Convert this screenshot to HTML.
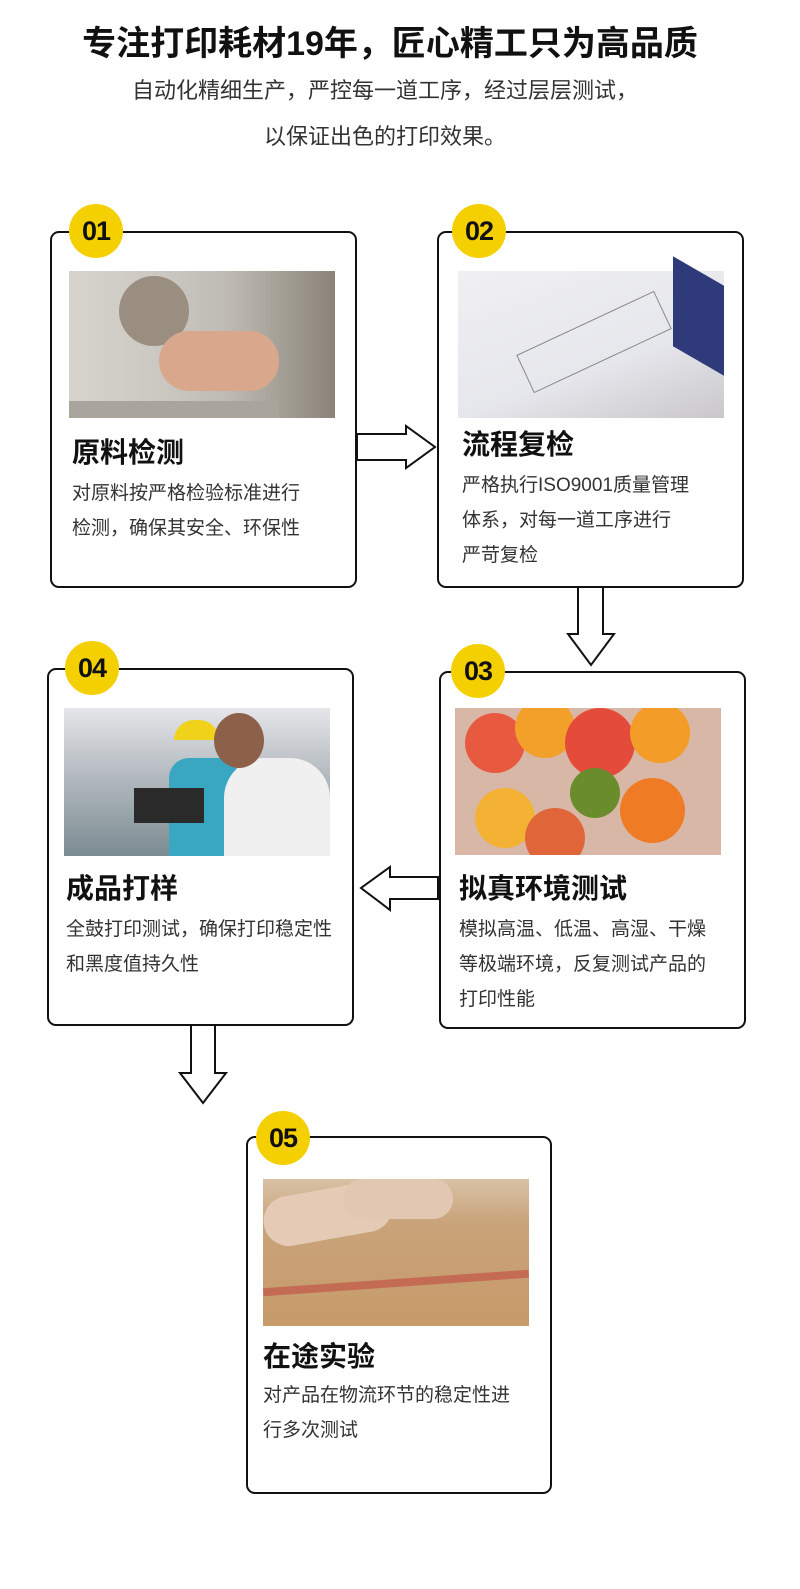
<!DOCTYPE html>
<html><head><meta charset="utf-8"><style>
body{margin:0;width:800px;height:1589px;background:#fff;position:relative;font-family:"Liberation Sans","Noto Sans CJK SC",sans-serif;color:#222;overflow:hidden}
.abs{position:absolute}
.box{position:absolute;border:2px solid #111;border-radius:9px;background:#fff;box-sizing:border-box}
.badge{position:absolute;width:54px;height:54px;border-radius:50%;background:#f5d000;font:bold 27px "Liberation Sans",sans-serif;color:#111;text-align:center;line-height:54px;letter-spacing:-1px}
.img{position:absolute}
.t{position:absolute;font-size:28px;line-height:32px;font-weight:bold;color:#111;white-space:nowrap}
.d{position:absolute;font-size:19px;line-height:35px;color:#333;white-space:nowrap}
</style></head><body>
<div class="abs" style="left:0;width:780px;top:16px;text-align:center;font-size:34px;font-weight:bold;color:#111">专注打印耗材19年，匠心精工只为高品质</div>
<div class="abs" style="left:0;width:770px;top:73px;text-align:center;font-size:22px;color:#333">自动化精细生产，严控每一道工序，经过层层测试，</div>
<div class="abs" style="left:0;width:770px;top:119px;text-align:center;font-size:22px;color:#333">以保证出色的打印效果。</div>

<div class="box" style="left:50px;top:231px;width:307px;height:357px"></div>
<div class="badge" style="left:69px;top:204px">01</div>
<div class="img" style="left:69px;top:271px;width:266px;height:147px;background:linear-gradient(90deg,#d6d4cc 0%,#c8c6bf 40%,#bdbab2 60%,#8a8478 100%)"><div class="abs" style="left:50px;top:5px;width:70px;height:70px;border-radius:50%;background:#9a8e80"></div><div class="abs" style="left:90px;top:60px;width:120px;height:60px;border-radius:30px;background:#d9a88c"></div><div class="abs" style="left:0;top:130px;width:210px;height:17px;background:#a9a59c"></div></div>
<div class="t" style="left:72px;top:437px">原料检测</div>
<div class="d" style="left:72px;top:476px">对原料按严格检验标准进行<br>检测，确保其安全、环保性</div>

<div class="box" style="left:437px;top:231px;width:307px;height:357px"></div>
<div class="badge" style="left:452px;top:204px">02</div>
<div class="img" style="left:458px;top:271px;width:266px;height:147px;background:linear-gradient(160deg,#f0f0f2 0%,#e6e7ec 60%,#c9c7cb 100%)"><div class="abs" style="left:215px;top:0;width:51px;height:90px;background:#2f3a7a;transform:skewY(30deg)"></div><div class="abs" style="left:60px;top:50px;width:150px;height:40px;border:1px solid #888;transform:rotate(-25deg)"></div></div>
<div class="t" style="left:462px;top:429px">流程复检</div>
<div class="d" style="left:462px;top:468px">严格执行ISO9001质量管理<br>体系，对每一道工序进行<br>严苛复检</div>

<svg class="abs" style="left:0;top:0" width="800" height="1589">
<g fill="#fff" stroke="#111" stroke-width="2">
<polygon points="357,434 406,434 406,426 435,447 406,468 406,460 357,460"/>
<polygon points="578,587 603,587 603,634 614,634 591,665 568,634 578,634"/>
<polygon points="438,877 390,877 390,867 361,888 390,910 390,899 438,899"/>
<polygon points="191,1025 215,1025 215,1073 226,1073 203,1103 180,1073 191,1073"/>
</g></svg>

<div class="box" style="left:439px;top:671px;width:307px;height:358px"></div>
<div class="badge" style="left:451px;top:644px">03</div>
<div class="img" style="left:455px;top:708px;width:266px;height:147px;background:#d8b7a6;overflow:hidden">
<div class="abs" style="left:10px;top:5px;width:60px;height:60px;border-radius:50%;background:#e85a40"></div>
<div class="abs" style="left:60px;top:-10px;width:60px;height:60px;border-radius:50%;background:#f2a02a"></div>
<div class="abs" style="left:110px;top:0;width:70px;height:70px;border-radius:50%;background:#e44b3a"></div>
<div class="abs" style="left:175px;top:-5px;width:60px;height:60px;border-radius:50%;background:#f39c27"></div>
<div class="abs" style="left:20px;top:80px;width:60px;height:60px;border-radius:50%;background:#f3b233"></div>
<div class="abs" style="left:115px;top:60px;width:50px;height:50px;border-radius:50%;background:#6a8c2c"></div>
<div class="abs" style="left:165px;top:70px;width:65px;height:65px;border-radius:50%;background:#ef7b25"></div>
<div class="abs" style="left:70px;top:100px;width:60px;height:60px;border-radius:50%;background:#e0663a"></div>
</div>
<div class="t" style="left:459px;top:873px">拟真环境测试</div>
<div class="d" style="left:459px;top:912px">模拟高温、低温、高湿、干燥<br>等极端环境，反复测试产品的<br>打印性能</div>

<div class="box" style="left:47px;top:668px;width:307px;height:358px"></div>
<div class="badge" style="left:65px;top:641px">04</div>
<div class="img" style="left:64px;top:708px;width:266px;height:148px;background:linear-gradient(180deg,#e6e6ea 0%,#b9bfc4 40%,#7b8c92 100%);overflow:hidden">
<div class="abs" style="left:105px;top:50px;width:70px;height:140px;background:#3aa7c2;border-radius:20px 20px 0 0"></div>
<div class="abs" style="left:110px;top:12px;width:45px;height:20px;background:#f1d21a;border-radius:20px 20px 0 0"></div>
<div class="abs" style="left:160px;top:50px;width:106px;height:110px;background:#f0f0f0;border-radius:40px 40px 0 0"></div>
<div class="abs" style="left:150px;top:5px;width:50px;height:55px;background:#8c6049;border-radius:50%"></div>
<div class="abs" style="left:70px;top:80px;width:70px;height:35px;background:#2a2a2a"></div>
</div>
<div class="t" style="left:66px;top:873px">成品打样</div>
<div class="d" style="left:66px;top:912px">全鼓打印测试，确保打印稳定性<br>和黑度值持久性</div>

<div class="box" style="left:246px;top:1136px;width:306px;height:358px"></div>
<div class="badge" style="left:256px;top:1111px">05</div>
<div class="img" style="left:263px;top:1179px;width:266px;height:147px;background:linear-gradient(180deg,#d8c1a6 0%,#c9a37a 30%,#c79b6a 100%);overflow:hidden">
<div class="abs" style="left:0;top:10px;width:130px;height:50px;background:#e5cbb6;border-radius:25px;transform:rotate(-10deg)"></div>
<div class="abs" style="left:80px;top:0;width:110px;height:40px;background:#e2c8b2;border-radius:20px"></div>
<div class="abs" style="left:0;top:100px;width:266px;height:8px;background:#c46b54;transform:rotate(-4deg)"></div>
</div>
<div class="t" style="left:263px;top:1341px">在途实验</div>
<div class="d" style="left:263px;top:1378px">对产品在物流环节的稳定性进<br>行多次测试</div>
</body></html>
